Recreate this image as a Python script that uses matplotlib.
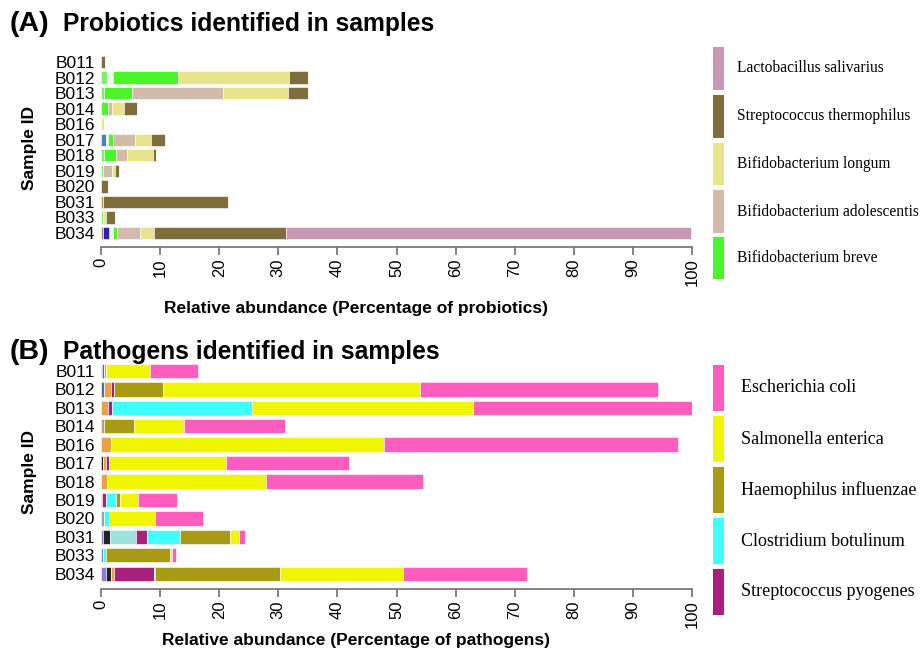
import numpy as np
import matplotlib
matplotlib.use('Agg')
import matplotlib.pyplot as plt
from matplotlib.patches import Rectangle

samples = ['B011', 'B012', 'B013', 'B014', 'B016', 'B017',
           'B018', 'B019', 'B020', 'B031', 'B033', 'B034']

# probiotics, stacking order left -> right (first five are unnamed minor species)
probiotic_names = ['other_orange', 'other_darkblue', 'other_blue', 'other_green', 'other_white',
                   'Bifidobacterium breve', 'Bifidobacterium adolescentis',
                   'Bifidobacterium longum', 'Streptococcus thermophilus',
                   'Lactobacillus salivarius']
pro_other_orange = [0, 0, 0, 0, 0, 0, 0, 0, 0, 0.34, 0, 0.39]
pro_other_darkblue = [0, 0, 0, 0, 0, 0, 0, 0, 0, 0, 0, 0.9]
pro_other_blue = [0, 0, 0, 0, 0, 0.9, 0, 0, 0, 0, 0, 0.28]
pro_other_green = [0, 1.0, 0.5, 0, 0, 0, 0.45, 0.28, 0, 0, 0.34, 0]
pro_other_white = [0, 0.97, 0, 0, 0, 0.23, 0, 0, 0, 0, 0, 0.4]
pro_breve = [0, 11.06, 4.74, 1.13, 0, 0.85, 2.09, 0, 0, 0, 0, 0.79]
pro_adolescentis = [0, 0, 15.4, 0.73, 0, 3.84, 1.86, 1.64, 0, 0, 0, 3.78]
pro_longum = [0, 18.84, 11.0, 2.09, 0.5, 2.65, 4.46, 0.39, 0, 0, 0.5, 2.48]
pro_thermophilus = [0.6, 3.13, 3.38, 2.2, 0, 2.31, 0.39, 0.79, 1.18, 21.2, 1.47, 22.34]
pro_salivarius = [0, 0, 0, 0, 0, 0, 0, 0, 0, 0, 0, 68.53]

# pathogens, stacking order left -> right
pathogen_names = ['other_purple', 'other_blue', 'other_black', 'other_teal', 'other_orange',
                  'other_grey', 'Streptococcus pyogenes', 'Clostridium botulinum',
                  'Haemophilus influenzae', 'Salmonella enterica', 'Escherichia coli']
pat_other_purple = [0.17, 0, 0, 0, 0, 0, 0, 0.25, 0, 0.28, 0.39, 0.85]
pat_other_blue = [0.39, 0.56, 0, 0, 0, 0, 0, 0, 0, 0, 0, 0]
pat_other_black = [0, 0, 0, 0, 0, 0.28, 0, 0, 0, 1.3, 0, 0.85]
pat_other_teal = [0, 0, 0, 0, 0, 0, 0, 0, 0, 4.34, 0, 0]
pat_other_orange = [0.23, 1.13, 1.18, 0, 1.69, 0.5, 1.02, 0, 0, 0, 0, 0.45]
pat_other_grey = [0, 0, 0, 0.45, 0, 0, 0, 0, 0.45, 0, 0, 0]
pat_pyogenes = [0, 0.57, 0.68, 0, 0, 0.62, 0, 0.6, 0, 1.86, 0, 6.77]
pat_botulinum = [0, 0, 23.7, 0, 0, 0, 0, 1.69, 0.85, 5.64, 0.45, 0.28]
pat_influenzae = [0, 8.23, 0, 5.08, 0, 0, 0, 0.73, 0, 8.46, 10.89, 21.04]
pat_enterica = [7.44, 43.5, 37.45, 8.57, 46.2, 19.8, 26.9, 2.94, 7.78, 1.52, 0.34, 20.8]
pat_coli = [8.12, 40.2, 36.99, 17.09, 49.8, 20.7, 26.5, 6.7, 8.12, 0.9, 0.68, 21.0]

probiotic_colors = ['#c08a55', '#2a1ec8', '#4a7fd0', '#7cf06a', '#f4f4f4',
                    '#4cf52a', '#d2bbaa', '#e8e48c', '#7f6e3c', '#c897b4']
pathogen_colors = ['#8a7be8', '#3f6fc0', '#1f2420', '#9be3da', '#eba048',
                   '#a89c98', '#a8207a', '#40ffff', '#a89a12', '#f0f500', '#ff5dbe']

AXIS_GREY = '#707070'


def stacked(ax, values, colors, height):
    y = np.arange(len(samples))
    left = np.zeros(len(samples))
    for vals, col in zip(values, colors):
        vals = np.array(vals, dtype=float)
        ax.barh(y, vals, left=left, height=height, color=col,
                edgecolor='white', linewidth=0.4)
        left += vals


def style_axis(ax, ylim, xlabel, label_y):
    ax.set_xlim(0, 100)
    ax.set_ylim(*ylim)
    ax.set_yticks(np.arange(len(samples)))
    ax.set_yticklabels(samples, fontsize=12.5, family='Liberation Sans')
    ax.tick_params(axis='y', length=0, pad=4)
    for s in ['top', 'right', 'left']:
        ax.spines[s].set_visible(False)
    ax.spines['bottom'].set_color(AXIS_GREY)
    ax.spines['bottom'].set_linewidth(1.2)
    ax.spines['bottom'].set_position(('outward', 5))
    ax.set_xticks(np.arange(0, 101, 10))
    ax.set_xticklabels([str(v) for v in range(0, 101, 10)], rotation=90,
                       fontsize=12, family='Liberation Sans')
    ax.tick_params(axis='x', length=6, width=1.2, color=AXIS_GREY, pad=2)
    ax.set_xlabel(xlabel, fontsize=12.5, fontweight='bold', family='Liberation Sans',
                  va='center', ha='center')
    ax.xaxis.set_label_coords((356 - 101) / 591., label_y)
    ax.set_ylabel('Sample ID', fontsize=12.5, fontweight='bold', family='Liberation Sans',
                  labelpad=13)


def legend_column(fig, names, colors, tops, heights, text_x, size):
    for name, col, top, h in zip(names, colors, tops, heights):
        fig.patches.append(Rectangle((713 / 922., 1 - (top + h) / 660.), 11 / 922., h / 660.,
                                     transform=fig.transFigure, facecolor=col,
                                     edgecolor='none'))
        fig.text(text_x / 922., 1 - (top + h / 2.) / 660., name, fontsize=size,
                 family='Liberation Serif', va='center', ha='left')


def main():
    fig = plt.figure(figsize=(9.22, 6.6), dpi=100)

    # panel A
    ax1 = fig.add_axes([101 / 922., 1 - 240 / 660., 591 / 922., 185 / 660.])
    stacked(ax1, [pro_other_orange, pro_other_darkblue, pro_other_blue, pro_other_green,
                  pro_other_white, pro_breve, pro_adolescentis, pro_longum,
                  pro_thermophilus, pro_salivarius], probiotic_colors, 0.8)
    style_axis(ax1, (11.45, -0.45), 'Relative abundance (Percentage of probiotics)',
               (240 - 308) / 185.)

    # panel B
    ax2 = fig.add_axes([101 / 922., 1 - 582 / 660., 591 / 922., 219 / 660.])
    stacked(ax2, [pat_other_purple, pat_other_blue, pat_other_black, pat_other_teal,
                  pat_other_orange, pat_other_grey, pat_pyogenes, pat_botulinum,
                  pat_influenzae, pat_enterica, pat_coli], pathogen_colors, 0.78)
    style_axis(ax2, (11.45, -0.43), 'Relative abundance (Percentage of pathogens)',
               (582 - 640) / 219.)

    fig.text(10 / 922., 1 - 24 / 660., '(A)', fontsize=20.5, fontweight='bold',
             family='Liberation Sans', va='center')
    fig.text(63 / 922., 1 - 24 / 660., 'Probiotics identified in samples', fontsize=17.7,
             fontweight='bold', family='Liberation Sans', va='center')
    fig.text(10 / 922., 1 - 352 / 660., '(B)', fontsize=20.5, fontweight='bold',
             family='Liberation Sans', va='center')
    fig.text(63 / 922., 1 - 352 / 660., 'Pathogens identified in samples', fontsize=17.7,
             fontweight='bold', family='Liberation Sans', va='center')

    # legends (top entry = last stacked species)
    legend_column(fig, probiotic_names[5:][::-1], probiotic_colors[5:][::-1],
                  [47, 95, 143, 190, 237], [43, 43, 42, 43, 42], 737, 11.2)
    legend_column(fig, pathogen_names[6:][::-1], pathogen_colors[6:][::-1],
                  [365, 416, 467, 518, 569], [46, 46, 46, 46, 46], 741, 13)

    fig.savefig('out.png', dpi=100)


if __name__ == "__main__":
    main()
